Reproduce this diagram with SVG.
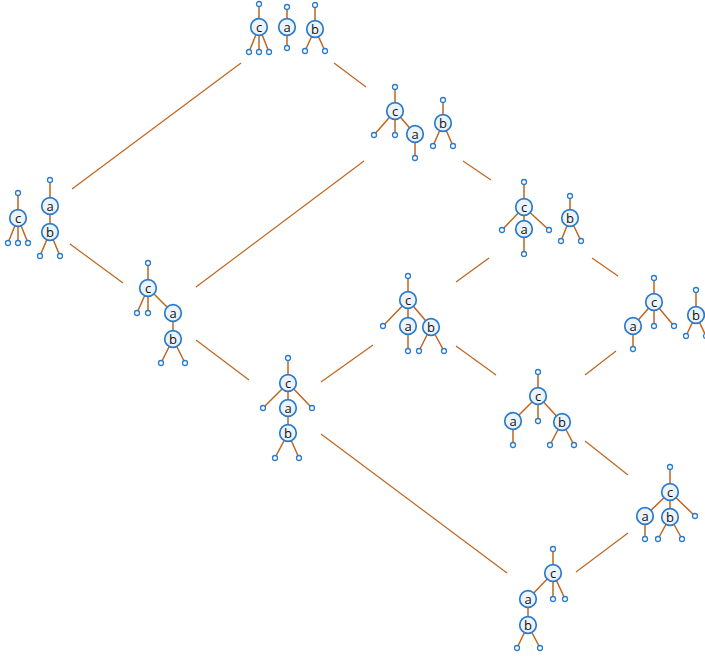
<svg xmlns="http://www.w3.org/2000/svg" width="705" height="658" viewBox="0 0 705 658">
<defs>
<style>
.e{stroke:#c0651e;stroke-width:1.5;fill:none}
.c{stroke:#c0651e;stroke-width:1.2;fill:none}
.n{fill:#edf3fa;stroke:#2b7bcc;stroke-width:1.7}
.l{fill:#fff;stroke:#2b7bcc;stroke-width:1.3}
.t{font-family:"Open Sans","Liberation Sans",sans-serif;font-size:13px;fill:#111;text-anchor:middle;dominant-baseline:central}
</style>
</defs>
<rect width="705" height="658" fill="#fff"/>
<g id="connectors">
<line class="c" x1="241" y1="63" x2="72" y2="189"/>
<line class="c" x1="334" y1="63" x2="366" y2="87"/>
<line class="c" x1="364" y1="161" x2="196" y2="287"/>
<line class="c" x1="463" y1="161" x2="491" y2="180"/>
<line class="c" x1="489" y1="258" x2="456" y2="282"/>
<line class="c" x1="592" y1="258" x2="618" y2="276"/>
<line class="c" x1="70" y1="244" x2="123" y2="283"/>
<line class="c" x1="196" y1="340" x2="249" y2="380"/>
<line class="c" x1="321" y1="382" x2="373" y2="345"/>
<line class="c" x1="456" y1="346" x2="496" y2="375"/>
<line class="c" x1="616" y1="351" x2="585" y2="375"/>
<line class="c" x1="321" y1="434" x2="507" y2="573"/>
<line class="c" x1="585" y1="441" x2="628" y2="475"/>
<line class="c" x1="628" y1="533" x2="576" y2="572"/>
</g>
<g id="t1">
<path class="e" d="M259,4V27M259,27L249,52M259,27V52M259,27L269,52M287,7V48M315,5V29M315,29L305,51M315,29L325,51"/>
<circle class="l" cx="259" cy="4" r="2.5"/><circle class="l" cx="249" cy="52" r="2.5"/><circle class="l" cx="259" cy="52" r="2.5"/><circle class="l" cx="269" cy="52" r="2.5"/>
<circle class="l" cx="287" cy="7" r="2.5"/><circle class="l" cx="287" cy="48" r="2.5"/>
<circle class="l" cx="315" cy="5" r="2.5"/><circle class="l" cx="305" cy="51" r="2.5"/><circle class="l" cx="325" cy="51" r="2.5"/>
<circle class="n" cx="259" cy="27" r="8.3"/><text class="t" x="259" y="27">c</text>
<circle class="n" cx="287" cy="27" r="8.3"/><text class="t" x="287" y="27">a</text>
<circle class="n" cx="315" cy="29" r="8.3"/><text class="t" x="315" y="29">b</text>
</g>
<g id="t2">
<path class="e" d="M395,87V111M395,111L374,135M395,111V135M395,111L415,134M415,134V158M443,100V123M443,123L433,146M443,123L453,146"/>
<circle class="l" cx="395" cy="87" r="2.5"/><circle class="l" cx="374" cy="135" r="2.5"/><circle class="l" cx="395" cy="135" r="2.5"/><circle class="l" cx="415" cy="158" r="2.5"/>
<circle class="l" cx="443" cy="100" r="2.5"/><circle class="l" cx="433" cy="146" r="2.5"/><circle class="l" cx="453" cy="146" r="2.5"/>
<circle class="n" cx="395" cy="111" r="8.3"/><text class="t" x="395" y="111">c</text>
<circle class="n" cx="415" cy="134" r="8.3"/><text class="t" x="415" y="134">a</text>
<circle class="n" cx="443" cy="123" r="8.3"/><text class="t" x="443" y="123">b</text>
</g>
<g id="t3">
<path class="e" d="M524,182V254M524,207L502,230M524,207L549,230M570,196V218M570,218L561,241M570,218L581,241"/>
<circle class="l" cx="524" cy="182" r="2.5"/><circle class="l" cx="502" cy="230" r="2.5"/><circle class="l" cx="549" cy="230" r="2.5"/><circle class="l" cx="524" cy="254" r="2.5"/>
<circle class="l" cx="570" cy="196" r="2.5"/><circle class="l" cx="561" cy="241" r="2.5"/><circle class="l" cx="581" cy="241" r="2.5"/>
<circle class="n" cx="524" cy="207" r="8.3"/><text class="t" x="524" y="207">c</text>
<circle class="n" cx="524" cy="229" r="8.3"/><text class="t" x="524" y="229">a</text>
<circle class="n" cx="570" cy="218" r="8.3"/><text class="t" x="570" y="218">b</text>
</g>
<g id="t4">
<path class="e" d="M18,193V243M18,218L8,243M18,218L28,243M50,180V232M50,232L40,256M50,232L60,256"/>
<circle class="l" cx="18" cy="193" r="2.5"/><circle class="l" cx="8" cy="243" r="2.5"/><circle class="l" cx="18" cy="243" r="2.5"/><circle class="l" cx="28" cy="243" r="2.5"/>
<circle class="l" cx="50" cy="180" r="2.5"/><circle class="l" cx="40" cy="256" r="2.5"/><circle class="l" cx="60" cy="256" r="2.5"/>
<circle class="n" cx="18" cy="218" r="8.3"/><text class="t" x="18" y="218">c</text>
<circle class="n" cx="50" cy="206" r="8.3"/><text class="t" x="50" y="206">a</text>
<circle class="n" cx="50" cy="232" r="8.3"/><text class="t" x="50" y="232">b</text>
</g>
<g id="t5">
<path class="e" d="M148,263V313M148,288L137,313M148,288L173,313M173,313V339M173,339L161,363M173,339L185,363"/>
<circle class="l" cx="148" cy="263" r="2.5"/><circle class="l" cx="137" cy="313" r="2.5"/><circle class="l" cx="148" cy="313" r="2.5"/>
<circle class="l" cx="161" cy="363" r="2.5"/><circle class="l" cx="185" cy="363" r="2.5"/>
<circle class="n" cx="148" cy="288" r="8.3"/><text class="t" x="148" y="288">c</text>
<circle class="n" cx="173" cy="313" r="8.3"/><text class="t" x="173" y="313">a</text>
<circle class="n" cx="173" cy="339" r="8.3"/><text class="t" x="173" y="339">b</text>
</g>
<g id="t6">
<path class="e" d="M288,358V433M288,383L263,408M288,383L312,408M288,433L275,458M288,433L299,458"/>
<circle class="l" cx="288" cy="358" r="2.5"/><circle class="l" cx="263" cy="408" r="2.5"/><circle class="l" cx="312" cy="408" r="2.5"/>
<circle class="l" cx="275" cy="458" r="2.5"/><circle class="l" cx="299" cy="458" r="2.5"/>
<circle class="n" cx="288" cy="383" r="8.3"/><text class="t" x="288" y="383">c</text>
<circle class="n" cx="288" cy="408" r="8.3"/><text class="t" x="288" y="408">a</text>
<circle class="n" cx="288" cy="433" r="8.3"/><text class="t" x="288" y="433">b</text>
</g>
<g id="t7">
<path class="e" d="M408,276V351M408,300L383,326M408,300L431,327M431,327L419,351M431,327L444,351"/>
<circle class="l" cx="408" cy="276" r="2.5"/><circle class="l" cx="383" cy="326" r="2.5"/><circle class="l" cx="408" cy="351" r="2.5"/>
<circle class="l" cx="419" cy="351" r="2.5"/><circle class="l" cx="444" cy="351" r="2.5"/>
<circle class="n" cx="408" cy="300" r="8.3"/><text class="t" x="408" y="300">c</text>
<circle class="n" cx="408" cy="326" r="8.3"/><text class="t" x="408" y="326">a</text>
<circle class="n" cx="431" cy="327" r="8.3"/><text class="t" x="431" y="327">b</text>
</g>
<g id="t8">
<path class="e" d="M654,278V326M654,302L633,326M633,326V349M654,302L674,326M696,290V315M696,315L686,336M696,315L706,336"/>
<circle class="l" cx="654" cy="278" r="2.5"/><circle class="l" cx="633" cy="349" r="2.5"/><circle class="l" cx="654" cy="326" r="2.5"/><circle class="l" cx="674" cy="326" r="2.5"/>
<circle class="l" cx="696" cy="290" r="2.5"/><circle class="l" cx="686" cy="336" r="2.5"/><circle class="l" cx="706" cy="336" r="2.5"/>
<circle class="n" cx="654" cy="302" r="8.3"/><text class="t" x="654" y="302">c</text>
<circle class="n" cx="633" cy="326" r="8.3"/><text class="t" x="633" y="326">a</text>
<circle class="n" cx="696" cy="315" r="8.3"/><text class="t" x="696" y="315">b</text>
</g>
<g id="t9">
<path class="e" d="M538,372V421M538,396L513,421M513,421V445M538,396L562,422M562,422L550,445M562,422L574,445"/>
<circle class="l" cx="538" cy="372" r="2.5"/><circle class="l" cx="538" cy="421" r="2.5"/><circle class="l" cx="513" cy="445" r="2.5"/>
<circle class="l" cx="550" cy="445" r="2.5"/><circle class="l" cx="574" cy="445" r="2.5"/>
<circle class="n" cx="538" cy="396" r="8.3"/><text class="t" x="538" y="396">c</text>
<circle class="n" cx="513" cy="421" r="8.3"/><text class="t" x="513" y="421">a</text>
<circle class="n" cx="562" cy="422" r="8.3"/><text class="t" x="562" y="422">b</text>
</g>
<g id="t10">
<path class="e" d="M670,467V517M670,492L645,516M645,516V539M670,492L695,516M670,517L658,539M670,517L682,539"/>
<circle class="l" cx="670" cy="467" r="2.5"/><circle class="l" cx="645" cy="539" r="2.5"/><circle class="l" cx="695" cy="516" r="2.5"/>
<circle class="l" cx="658" cy="539" r="2.5"/><circle class="l" cx="682" cy="539" r="2.5"/>
<circle class="n" cx="670" cy="492" r="8.3"/><text class="t" x="670" y="492">c</text>
<circle class="n" cx="645" cy="516" r="8.3"/><text class="t" x="645" y="516">a</text>
<circle class="n" cx="670" cy="517" r="8.3"/><text class="t" x="670" y="517">b</text>
</g>
<g id="t11">
<path class="e" d="M553,549V599M553,573L565,599M553,573L528,599M528,599V625M528,625L517,648M528,625L540,648"/>
<circle class="l" cx="553" cy="549" r="2.5"/><circle class="l" cx="553" cy="599" r="2.5"/><circle class="l" cx="565" cy="599" r="2.5"/>
<circle class="l" cx="517" cy="648" r="2.5"/><circle class="l" cx="540" cy="648" r="2.5"/>
<circle class="n" cx="553" cy="573" r="8.3"/><text class="t" x="553" y="573">c</text>
<circle class="n" cx="528" cy="599" r="8.3"/><text class="t" x="528" y="599">a</text>
<circle class="n" cx="528" cy="625" r="8.3"/><text class="t" x="528" y="625">b</text>
</g>
</svg>
